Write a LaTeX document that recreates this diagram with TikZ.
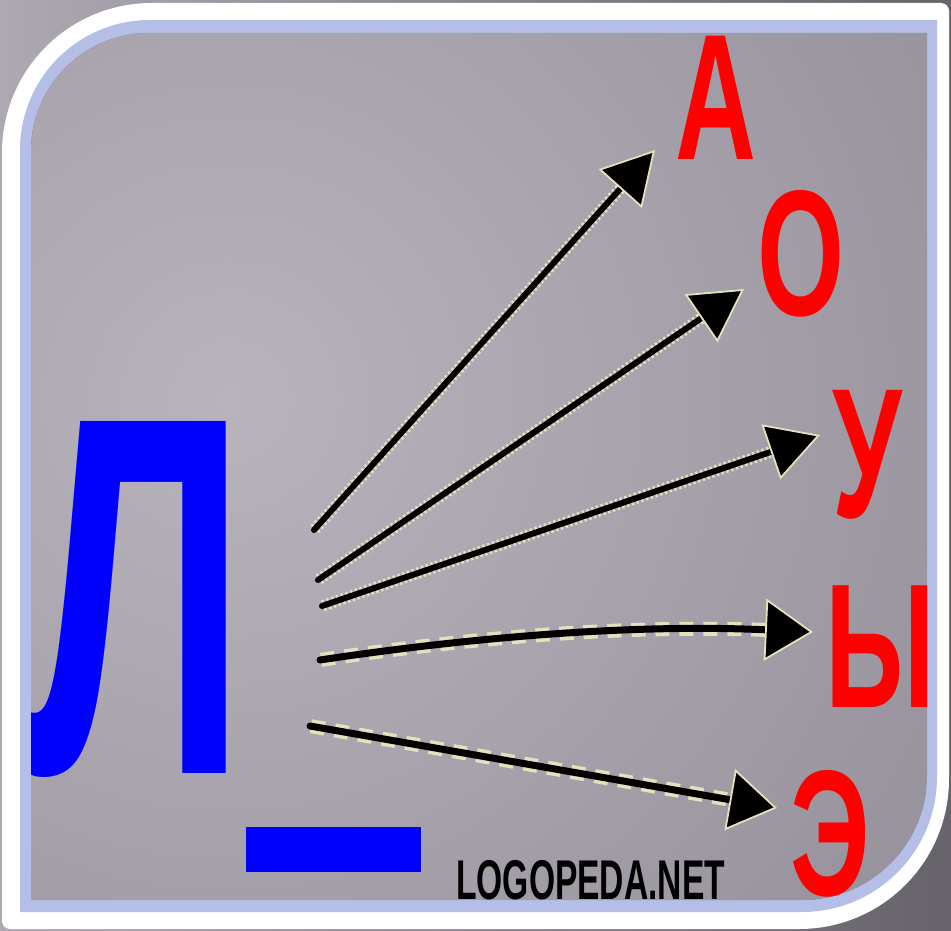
\documentclass[tikz,border=0pt]{standalone}
\usepackage{fontspec}
\setmainfont{Liberation Sans}
\usepackage{graphicx}
\usetikzlibrary{arrows.meta}
\definecolor{bandblue}{HTML}{B4BEE6}
\definecolor{halo}{HTML}{E4E2BC}
\definecolor{letterred}{HTML}{FF0000}
\definecolor{letterblue}{HTML}{0000FF}
\definecolor{bglight}{HTML}{B8B3BD}
\definecolor{bgdark}{HTML}{736F79}
\definecolor{outerlight}{HTML}{ADA8B2}
\definecolor{outerdark}{HTML}{67636B}
\pgfdeclareradialshading{imgshade}{\pgfpoint{0bp}{0bp}}{color(0bp)=(bglight); color(50bp)=(bgdark); color(72bp)=(bgdark)}
\begin{document}
\begin{tikzpicture}[x=1pt,y=-1pt,
  vowel/.style={text=letterred, inner sep=0pt, anchor=base, font=\bfseries\fontsize{112}{112}\selectfont},
  halodot/.style={draw=halo, line width=11.5pt, dash pattern=on 2.5pt off 2.5pt, shorten >=32pt, shorten <=1pt},
  halodash/.style={draw=halo, line width=14pt, dash pattern=on 14pt off 10pt, shorten >=32pt, shorten <=1pt},
  core/.style={draw=black, line width=6pt, line cap=round, -{Triangle[length=52pt,width=58pt,color=halo,fill=black,line width=1.8pt]}},
  corethick/.style={draw=black, line width=7pt, line cap=round, -{Triangle[length=48pt,width=62pt,color=halo,fill=black,line width=1.8pt]}},
]
\useasboundingbox (0,0) rectangle (951,931);
% outer background
\shade[left color=outerlight, right color=outerdark] (0,0) rectangle (951,931);
% white frame
\fill[white] (2,153) .. controls (2,70) and (69,3) .. (152,3)
  -- (941,3) .. controls (945.4,3) and (949,6.6) .. (949,11)
  -- (949,779) .. controls (949,862) and (882,929) .. (799,929)
  -- (10,929) .. controls (5.6,929) and (2,925.4) .. (2,921) -- cycle;
% light blue band
\fill[bandblue] (20,150) .. controls (20,78.2) and (78.2,20) .. (150,20)
  -- (937,20) -- (937,777) .. controls (937,851.5) and (876.5,912) .. (802,912)
  -- (20,912) -- cycle;
\begin{scope}
\clip (31,151) .. controls (31,85.9) and (83.9,33) .. (149,33)
  -- (927,33) -- (927,775) .. controls (927,844) and (871,900) .. (802,900)
  -- (31,900) -- cycle;
\fill[bgdark] (31,33) rectangle (927,900);
\shade[shading=imgshade] (230,400) circle (860);
% letters
\node[text=letterblue, inner sep=0pt, anchor=base, font=\bfseries\fontsize{313}{313}\selectfont] (L) at (137,773) {\scalebox{1}[1.635]{Л}};
\node[fill=letterblue, minimum width=175pt, minimum height=45pt, inner sep=0pt, anchor=north west] (blank) at (246,827) {};
\node[vowel] (A) at (716,160) {\scalebox{1}[1.6]{А}};
\node[vowel] (O) at (801,315) {\scalebox{1}[1.6]{О}};
\node[vowel] (U) at (867,517) {\scalebox{1}[1.65]{У}};
\node[vowel, anchor=base west] (Y) at (825,707) {\scalebox{1}[1.58]{Ы}};
\node[vowel] (E) at (830,895) {\scalebox{1}[1.6]{Э}};
\node[inner sep=0pt, anchor=base west, font=\bfseries\fontsize{56}{56}\selectfont] (site) at (456,899) {\scalebox{0.6}[1]{LOGOPEDA.NET}};
% arrows
\coordinate (s1) at (314,530); \coordinate (t1) at (655,150);
\coordinate (s2) at (318,580); \coordinate (t2) at (744,289);
\coordinate (s3) at (322,606); \coordinate (t3) at (820,435);
\coordinate (s4) at (320,660); \coordinate (t4) at (813,632);
\coordinate (s5) at (310,726); \coordinate (t5) at (777,808);
\draw[halodot] (s1) -- (t1);
\draw[core] (s1) -- (t1);
\draw[halodot] (s2) -- (t2);
\draw[core] (s2) -- (t2);
\draw[halodot] (s3) -- (t3);
\draw[core] (s3) -- (t3);
\draw[halodash] (s4) .. controls (480,636) and (640,624) .. (t4);
\draw[corethick] (s4) .. controls (480,636) and (640,624) .. (t4);
\draw[halodash] (s5) -- (t5);
\draw[corethick] (s5) -- (t5);
\end{scope}
\end{tikzpicture}
\end{document}
